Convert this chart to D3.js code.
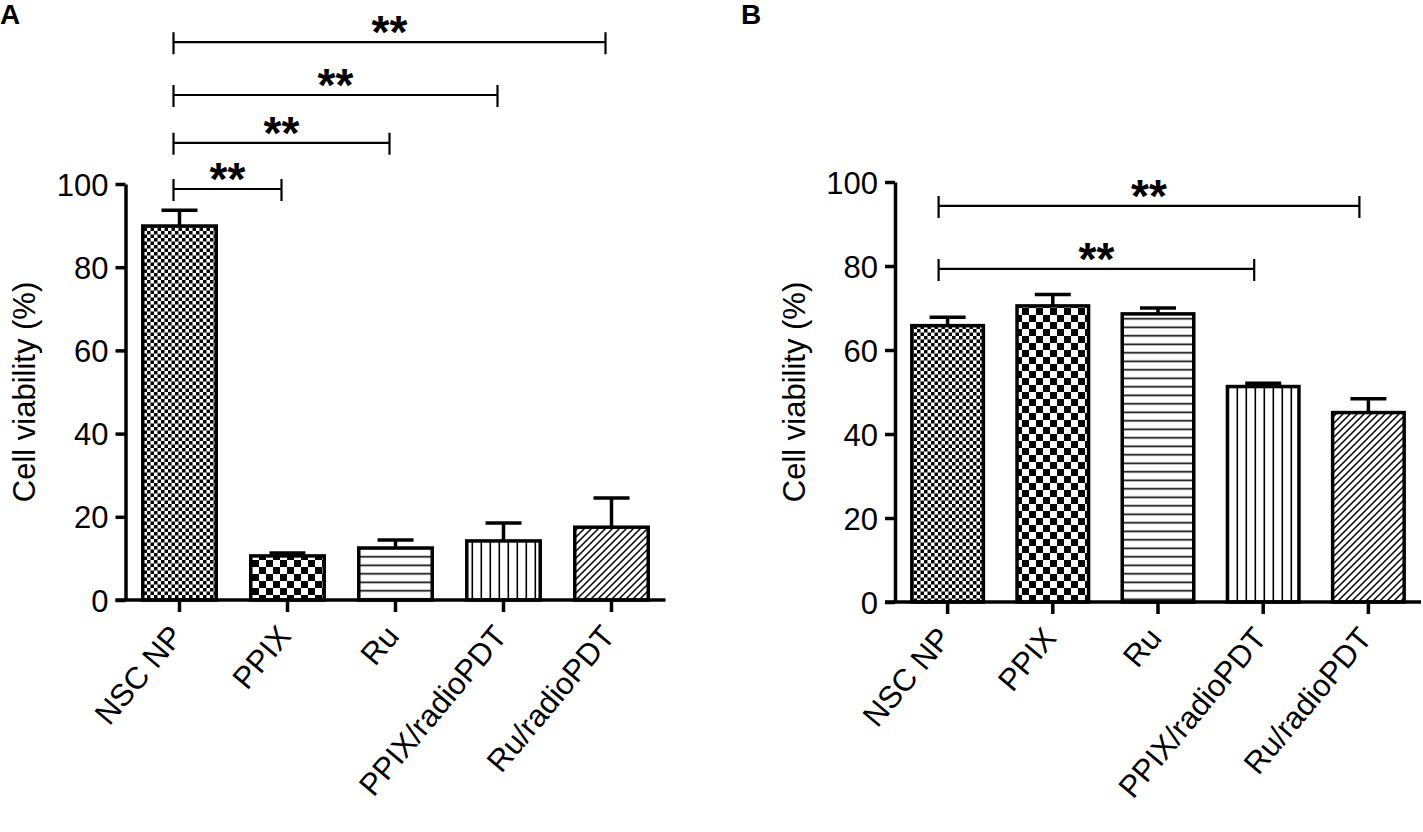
<!DOCTYPE html>
<html>
<head>
<meta charset="utf-8">
<script src="https://cdn.jsdelivr.net/npm/d3@7"></script>
<style>
  body { margin: 0; background: #fff; }
  svg { display: block; font-family: "Liberation Sans", Arial, sans-serif; }
</style>
</head>
<body>
<div id="chart"></div>
<script>
// ******************** data ********************
const categories = ["NSC NP", "PPIX", "Ru", "PPIX/radioPDT", "Ru/radioPDT"];
const yTicks = [0, 20, 40, 60, 80, 100];

// panel A : mean and upper SEM
const meanA = [89.9, 10.6, 12.5, 14.2, 17.5];
const errA = [3.8, 0.7, 1.9, 4.3, 7.0];
// panel B
const meanB = [65.8, 70.5, 68.6, 51.3, 45.1];
const errB = [2.0, 2.7, 1.4, 0.8, 3.3];

// significance brackets: [from, to, height in % units, label]
const sigA = [
  ["NSC NP", "Ru/radioPDT", 134.1, "**"],
  ["NSC NP", "PPIX/radioPDT", 121.4, "**"],
  ["NSC NP", "Ru", 109.9, "**"],
  ["NSC NP", "PPIX", 98.8, "**"]
];
const sigB = [
  ["NSC NP", "Ru/radioPDT", 94.3, "**"],
  ["NSC NP", "PPIX/radioPDT", 79.3, "**"]
];

// fill pattern of each category
const fills = ["checkFine", "checkCoarse", "hLines", "vLines", "diag"];

const W = 1423, H = 832;
const svg = d3.select("#chart").append("svg")
    .attr("width", W)
    .attr("height", H);

// ---------- hatch patterns ----------
const defs = svg.append("defs");
function pattern(id, w, h) {
  const p = defs.append("pattern")
      .attr("id", id)
      .attr("patternUnits", "userSpaceOnUse")
      .attr("width", w).attr("height", h);
  p.append("rect").attr("width", w).attr("height", h).attr("fill", "#fff");
  return p;
}
let p = pattern("checkFine", 7, 7);
p.append("rect").attr("width", 3.5).attr("height", 3.5).attr("fill", "#000");
p.append("rect").attr("x", 3.5).attr("y", 3.5).attr("width", 3.5).attr("height", 3.5).attr("fill", "#000");
p = pattern("checkCoarse", 14, 14);
p.append("rect").attr("width", 7).attr("height", 7).attr("fill", "#000");
p.append("rect").attr("x", 7).attr("y", 7).attr("width", 7).attr("height", 7).attr("fill", "#000");
p = pattern("hLines", 10, 8.5);
p.append("rect").attr("y", 3.5).attr("width", 10).attr("height", 1.6).attr("fill", "#000");
p = pattern("vLines", 9, 10);
p.append("rect").attr("x", 3.5).attr("width", 1.6).attr("height", 10).attr("fill", "#000");
p = pattern("diag", 7, 7);
p.append("path").attr("d", "M-1,1 l2,-2 M0,7 l7,-7 M6,8 l2,-2")
    .attr("stroke", "#000").attr("stroke-width", 1.5);

// ---------- one panel ----------
function drawPanel(o) {
  const x = d3.scaleBand()
      .domain(categories)
      .range(o.xRange)
      .paddingInner(0.32)
      .paddingOuter(0.16);
  const y = d3.scaleLinear()
      .domain([0, 100])
      .range(o.yRange);

  const g = svg.append("g");
  const cx = d => x(d) + x.bandwidth() / 2;

  //bars
  g.selectAll(".bar")
      .data(categories)
      .enter().append("rect")
      .attr("x", d => x(d))
      .attr("width", x.bandwidth())
      .attr("y", (d, i) => y(o.mean[i]))
      .attr("height", (d, i) => y(0) - y(o.mean[i]))
      .attr("fill", (d, i) => "url(#" + fills[i] + ")")
      .attr("stroke", "#000")
      .attr("stroke-width", 3.5);

  //upper error bars
  const eb = g.selectAll(".err")
      .data(categories)
      .enter().append("g")
      .attr("stroke", "#000")
      .attr("stroke-width", 3.5);
  eb.append("line")
      .attr("x1", d => cx(d)).attr("x2", d => cx(d))
      .attr("y1", (d, i) => y(o.mean[i]))
      .attr("y2", (d, i) => y(o.mean[i] + o.err[i]));
  eb.append("line")
      .attr("x1", d => cx(d) - 18).attr("x2", d => cx(d) + 18)
      .attr("y1", (d, i) => y(o.mean[i] + o.err[i]))
      .attr("y2", (d, i) => y(o.mean[i] + o.err[i]));

  //y axis
  const ya = g.append("g")
      .attr("transform", "translate(" + o.xRange[0] + ",0)")
      .call(d3.axisLeft(y).tickValues(yTicks).tickSize(10).tickSizeOuter(0).tickPadding(7));
  ya.selectAll("path,line").attr("stroke-width", 3.5);
  ya.selectAll("text").style("font-size", "31px").style("font-family", null).attr("dy", "0.36em");

  //x axis, labels slanted
  const xa = g.append("g")
      .attr("transform", "translate(0," + y(0) + ")")
      .call(d3.axisBottom(x).tickSize(12).tickSizeOuter(0));
  xa.select(".domain").attr("d", "M" + (o.xRange[0] - 10) + ",0H" + o.xRange[1]);
  xa.selectAll("path,line").attr("stroke-width", 3.5);
  xa.selectAll("text")
      .style("font-size", "31px").style("font-family", null)
      .style("text-anchor", "end")
      .attr("y", null).attr("dy", null)
      .attr("transform", "translate(5,37) rotate(-50)");

  //text label for the y axis
  g.append("text")
      .attr("transform", "translate(" + o.titleX + "," + ((o.yRange[0] + o.yRange[1]) / 2) + ") rotate(-90)")
      .style("text-anchor", "middle")
      .style("font-size", "31px")
      .text("Cell viability (%)");

  //significance brackets
  const br = g.selectAll(".sig")
      .data(o.sig)
      .enter().append("g");
  br.append("path")
      .attr("d", d => {
        const x1 = cx(d[0]) + o.brShift, x2 = cx(d[1]) + o.brShift, yy = y(d[2]);
        return "M" + x1 + "," + (yy - 10) + "V" + (yy + 12) + "M" + x1 + "," + yy + "H" + x2 +
               "M" + x2 + "," + (yy - 10) + "V" + (yy + 12);
      })
      .attr("fill", "none")
      .attr("stroke", "#000")
      .attr("stroke-width", 2.2);
  br.append("text")
      .attr("x", d => (cx(d[0]) + cx(d[1])) / 2 + o.brShift)
      .attr("y", d => y(d[2]) + 6)
      .style("text-anchor", "middle")
      .style("font-size", "46px")
      .style("font-weight", "bold")
      .text(d => d[3]);

  //panel letter
  g.append("text")
      .attr("x", o.letterX).attr("y", 24)
      .style("font-size", "28px")
      .style("font-weight", "bold")
      .text(o.letter);
}

drawPanel({letter: "A", letterX: 0, titleX: 35, xRange: [125.5, 665.5], yRange: [600, 184],
           mean: meanA, err: errA, sig: sigA, brShift: -6});
drawPanel({letter: "B", letterX: 741, titleX: 805, xRange: [895, 1421], yRange: [602, 182],
           mean: meanB, err: errB, sig: sigB, brShift: -9});
</script>
</body>
</html>
